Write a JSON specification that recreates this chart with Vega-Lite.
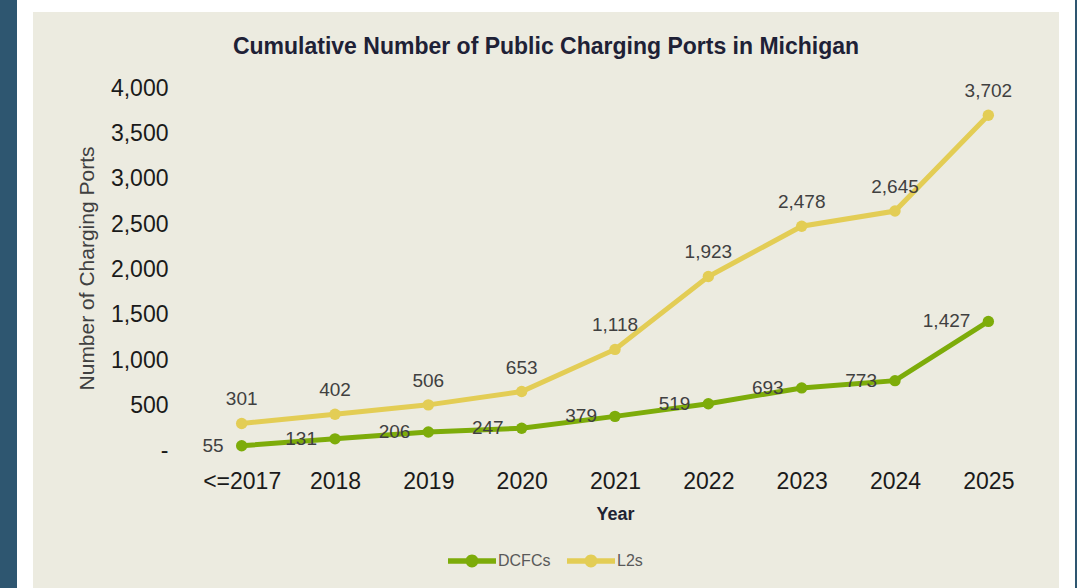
{
  "$schema": "https://vega.github.io/schema/vega-lite/v6.json",
  "autosize": {"type": "none"},
  "width": 1042,
  "height": 584,
  "padding": {"left": 25, "top": 4, "right": 10, "bottom": 0},
  "background": "#2e5670",
  "title": {
    "text": "Cumulative Number of Public Charging Ports in Michigan",
    "anchor": "middle",
    "frame": "group",
    "offset": -55,
    "fontSize": 23,
    "fontWeight": "bold",
    "color": "#1e2136",
    "font": "Liberation Sans"
  },
  "config": {
    "font": "Liberation Sans",
    "view": {"fill": "#ecebe0", "stroke": "#ffffff", "strokeWidth": 16, "strokeDash": [1626, 1042, 700]}
  },
  "data": {
    "values": [
      {"year": "<=2017", "i": 0, "type": "DCFCs", "ports": 55},
      {"year": "2018", "i": 1, "type": "DCFCs", "ports": 131},
      {"year": "2019", "i": 2, "type": "DCFCs", "ports": 206},
      {"year": "2020", "i": 3, "type": "DCFCs", "ports": 247},
      {"year": "2021", "i": 4, "type": "DCFCs", "ports": 379},
      {"year": "2022", "i": 5, "type": "DCFCs", "ports": 519},
      {"year": "2023", "i": 6, "type": "DCFCs", "ports": 693},
      {"year": "2024", "i": 7, "type": "DCFCs", "ports": 773},
      {"year": "2025", "i": 8, "type": "DCFCs", "ports": 1427},
      {"year": "<=2017", "i": 0, "type": "L2s", "ports": 301},
      {"year": "2018", "i": 1, "type": "L2s", "ports": 402},
      {"year": "2019", "i": 2, "type": "L2s", "ports": 506},
      {"year": "2020", "i": 3, "type": "L2s", "ports": 653},
      {"year": "2021", "i": 4, "type": "L2s", "ports": 1118},
      {"year": "2022", "i": 5, "type": "L2s", "ports": 1923},
      {"year": "2023", "i": 6, "type": "L2s", "ports": 2478},
      {"year": "2024", "i": 7, "type": "L2s", "ports": 2645},
      {"year": "2025", "i": 8, "type": "L2s", "ports": 3702}
    ]
  },
  "encoding": {
    "x": {
      "field": "i",
      "type": "quantitative",
      "scale": {"domain": [-2.32143, 8.84286], "nice": false, "zero": false},
      "axis": {
        "values": [0, 1, 2, 3, 4, 5, 6, 7, 8],
        "labelExpr": "['<=2017','2018','2019','2020','2021','2022','2023','2024','2025'][datum.value]",
        "offset": -118,
        "domain": false,
        "ticks": false,
        "tickSize": 0,
        "grid": false,
        "labelPadding": 0,
        "labelFontSize": 23,
        "labelColor": "#1a1a1a",
        "labelFlush": false,
        "labelOverlap": false,
        "title": "Year",
        "titleFontSize": 18,
        "titleFontWeight": "bold",
        "titleColor": "#1f2333",
        "titlePadding": 12,
        "titleX": 590
      }
    },
    "y": {
      "field": "ports",
      "type": "quantitative",
      "scale": {"domain": [-1515.5, 4930.5], "nice": false, "zero": false},
      "axis": {
        "values": [0, 500, 1000, 1500, 2000, 2500, 3000, 3500, 4000],
        "labelExpr": "datum.value == 0 ? '-' : format(datum.value, ',')",
        "offset": -143,
        "domain": false,
        "ticks": false,
        "tickSize": 0,
        "grid": false,
        "labelPadding": 0,
        "labelFontSize": 23,
        "labelColor": "#1a1a1a",
        "labelOverlap": false,
        "title": "Number of Charging Ports",
        "titleFontSize": 21,
        "titleFontWeight": "normal",
        "titleColor": "#404040",
        "titlePadding": 13,
        "titleY": 264,
        "encode": {"labels": {"update": {"dx": {"signal": "datum.value == 0 ? -9 : 0"}}}}
      }
    }
  },
  "layer": [
    {
      "data": {"values": [{"ports": 0}, {"ports": 500}, {"ports": 1000}, {"ports": 1500}, {"ports": 2000}, {"ports": 2500}, {"ports": 3000}, {"ports": 3500}, {"ports": 4000}]},
      "mark": {"type": "rule", "color": "#d6d8df", "strokeWidth": 1.5},
      "encoding": {
        "x": {"datum": -0.5, "type": "quantitative"},
        "x2": {"datum": 8.5}
      }
    },
    {
      "mark": {"type": "line", "strokeWidth": 5},
      "encoding": {
        "color": {
          "field": "type",
          "type": "nominal",
          "scale": {"domain": ["DCFCs", "L2s"], "range": ["#7dac0a", "#e3cd55"]},
          "legend": {
            "title": null,
            "orient": "none",
            "legendX": 423,
            "legendY": 533,
            "direction": "horizontal",
            "symbolType": "M-1,-0.11L1,-0.11L1,0.11L-1,0.11Z M0.27,0A0.27,0.27 0 1 1 -0.27,0A0.27,0.27 0 1 1 0.27,0Z",
            "symbolSize": 2304,
            "symbolStrokeWidth": 0,
            "labelFontSize": 16,
            "labelColor": "#595959",
            "labelOffset": 2,
            "columnPadding": 16,
            "padding": 0,
            "encode": {"symbols": {"update": {"fill": {"scale": "color", "field": "value"}, "stroke": {"value": "transparent"}, "opacity": {"value": 1}}}}
          }
        }
      }
    },
    {
      "mark": {"type": "point", "filled": true, "size": 130, "opacity": 1},
      "encoding": {
        "color": {"field": "type", "type": "nominal"}
      }
    },
    {
      "transform": [{"filter": "datum.type == 'DCFCs'"}],
      "mark": {"type": "text", "align": "right", "baseline": "middle", "dx": -18, "fontSize": 19, "color": "#404040"},
      "encoding": {
        "text": {"field": "ports", "type": "quantitative", "format": ","}
      }
    },
    {
      "transform": [{"filter": "datum.type == 'L2s'"}],
      "mark": {"type": "text", "align": "center", "baseline": "middle", "dy": -24, "fontSize": 19, "color": "#404040"},
      "encoding": {
        "text": {"field": "ports", "type": "quantitative", "format": ","}
      }
    }
  ]
}
